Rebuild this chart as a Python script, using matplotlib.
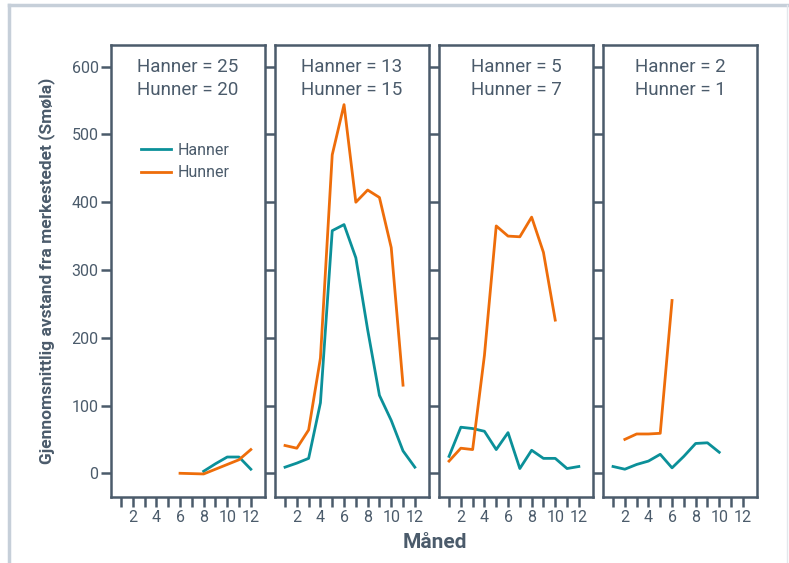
import matplotlib
matplotlib.use("Agg")
import matplotlib.pyplot as plt
import numpy as np
from matplotlib.lines import Line2D

plt.rcParams["font.family"] = ["Roboto", "DejaVu Sans"]

TEXT = "#4b5b6b"
TEAL = "#0b9099"
ORANGE = "#ee6d0a"
nan = np.nan

months = list(range(1, 13))
males_n = [25, 13, 5, 2]
females_n = [20, 15, 7, 1]

# mean distance from tagging site per month, one list per panel
males = [
    [nan, nan, nan, nan, nan, nan, nan, 3, 14, 24, 24, 6],
    [9, 15, 22, 104, 358, 367, 318, 212, 115, 78, 33, 9],
    [25, 68, 66, 62, 35, 60, 7, 34, 22, 22, 7, 10],
    [10, 6, 13, 18, 28, 8, 25, 44, 45, 31, nan, nan],
]
females = [
    [nan, nan, nan, nan, nan, 0, -0.5, -1, 6, 13, 20, 35],
    [41, 37, 64, 170, 470, 544, 400, 418, 407, 333, 130, nan],
    [18, 37, 35, 174, 365, 350, 349, 378, 326, 226, nan, nan],
    [nan, 50, 58, 58, 59, 255, nan, nan, nan, nan, nan, nan],
]

fig, axes = plt.subplots(1, 4, figsize=(7.89, 5.63), dpi=100, sharey=True)
fig.subplots_adjust(left=111 / 789, right=757 / 789, top=1 - 45 / 563,
                    bottom=1 - 497 / 563, wspace=0.065)

for i, ax in enumerate(axes):
    ax.plot(months, males[i], color=TEAL, lw=2, label="Hanner")
    ax.plot(months, females[i], color=ORANGE, lw=2, label="Hunner")
    ax.set_xlim(0.15, 13.2)
    ax.set_ylim(-35, 632)
    ax.set_xticks(months)
    ax.set_xticklabels([str(m) if m % 2 == 0 else "" for m in months])
    ax.set_yticks(range(0, 601, 100))
    for sp in ax.spines.values():
        sp.set_color(TEXT)
        sp.set_linewidth(1.8)
    ax.tick_params(direction="out", length=7, width=1.8, color=TEXT,
                   labelcolor=TEXT, labelsize=11.5, pad=2)
    ax.text(0.5, 0.972, f"Hanner = {males_n[i]}\nHunner = {females_n[i]}",
            transform=ax.transAxes, ha="center", va="top", fontsize=13.5,
            color=TEXT, linespacing=1.35)

leg = axes[0].legend(loc="upper left", bbox_to_anchor=(0.1, 0.815), frameon=False,
                     fontsize=11.5, handlelength=1.9, handletextpad=0.4,
                     labelspacing=0.45, labelcolor=TEXT)

axes[0].set_ylabel("Gjennomsnittlig avstand fra merkestedet (Smøla)",
                   fontsize=12.5, fontweight="bold", color=TEXT, labelpad=12)
fig.text(435 / 789, 1 - 543 / 563, "Måned", ha="center", va="center",
         fontsize=15, fontweight="bold", color=TEXT)

# light frame around the figure
frame = "#c6cfd9"
fig.add_artist(Line2D([9 / 789, 9 / 789], [0, 1 - 5 / 563], color=frame, lw=2.5))
fig.add_artist(Line2D([9 / 789, 787 / 789], [1 - 5 / 563, 1 - 5 / 563], color=frame, lw=2.5))
fig.add_artist(Line2D([787 / 789, 787 / 789], [0, 1 - 5 / 563], color="#e3e7ec", lw=1))

fig.savefig("out.png", dpi=100)
